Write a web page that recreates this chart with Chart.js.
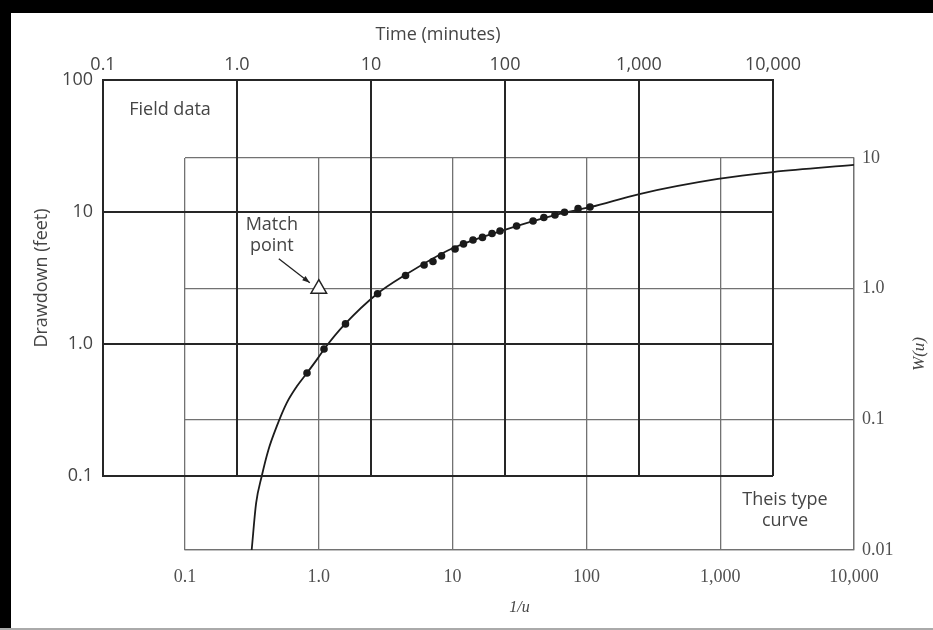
<!DOCTYPE html>
<html><head><meta charset="utf-8">
<script src="https://cdn.jsdelivr.net/npm/chart.js@4.4.1/dist/chart.umd.min.js"></script>
<style>
html,body{margin:0;padding:0;background:#fff;}
#wrap{position:relative;width:933px;height:630px;overflow:hidden;background:#fff;}
canvas{position:absolute;left:0;top:0;}
.bar{position:absolute;background:#000;}
</style></head><body>
<div id="wrap">
<canvas id="typeChart" width="933" height="630"></canvas>
<canvas id="fieldChart" width="933" height="630"></canvas>
<div class="bar" style="left:0;top:0;width:933px;height:13px"></div>
<div class="bar" style="left:0;top:0;width:11px;height:630px"></div>
<div style="position:absolute;left:0;top:628px;width:933px;height:2px;background:#aaa"></div>
</div>
<script>
// ---- tick values and labels ----
const timeTicks = [0.1, 1, 10, 100, 1000, 10000];
const timeTickLabels = ['0.1', '1.0', '10', '100', '1,000', '10,000'];
const drawdownTicks = [0.1, 1, 10, 100];
const drawdownTickLabels = ['0.1', '1.0', '10', '100'];
const invUTicks = [0.1, 1, 10, 100, 1000, 10000];
const invUTickLabels = ['0.1', '1.0', '10', '100', '1,000', '10,000'];
const wuTicks = [0.01, 0.1, 1, 10];
const wuTickLabels = ['0.01', '0.1', '1.0', '10'];

// ---- field data: time (minutes) vs drawdown (feet) ----
const fieldTime = [3.33, 4.46, 6.45, 11.2, 18.1, 24.9, 29.0, 33.6, 42.4, 49.0, 57.7, 67.9, 80.0, 91.8, 122, 162, 195, 236, 278, 351, 431];
const fieldDrawdown = [0.603, 0.917, 1.42, 2.40, 3.30, 3.97, 4.22, 4.65, 5.25, 5.73, 6.14, 6.42, 6.88, 7.18, 7.84, 8.55, 9.09, 9.50, 9.95, 10.6, 10.9];

// ---- Theis type curve: 1/u vs W(u) ----
const curveInvU = [0.315, 0.340, 0.374, 0.420, 0.484, 0.575, 0.684, 0.813, 0.964, 1.11, 1.56, 2.72, 4.41, 9.9, 24.2, 58.2, 108, 249, 964, 2480, 10000];
const curveW = [0.0100, 0.0228, 0.0365, 0.0583, 0.0879, 0.133, 0.178, 0.225, 0.285, 0.350, 0.532, 0.910, 1.27, 2.03, 2.81, 3.66, 4.22, 5.30, 6.91, 7.81, 8.85];

// ---- match point ----
const matchInvU = [1];
const matchW = [1];

const SANS = "'Open Sans', 'DejaVu Sans', sans-serif";
const SERIF = "'Liberation Serif', 'DejaVu Serif', serif";
const TEXT = '#454545';

function decadeTicks(list) { return s => { s.ticks = list.map(v => ({ value: v })); }; }

const typeTextPlugin = {
  id: 'typeText',
  afterDraw(chart) {
    const ctx = chart.ctx;
    const xs = chart.scales.x, ys = chart.scales.y;
    const mx = xs.getPixelForValue(matchInvU[0]);
    const my = ys.getPixelForValue(matchW[0]);
    ctx.save();
    ctx.fillStyle = TEXT;
    ctx.font = "18px " + SANS;
    ctx.textAlign = 'center';
    ctx.textBaseline = 'middle';
    ctx.fillText('Match', mx - 47, my - 64);
    ctx.fillText('point', mx - 47, my - 43);
    // arrow
    ctx.strokeStyle = '#222';
    ctx.fillStyle = '#222';
    ctx.lineWidth = 1.3;
    const x1 = mx - 40, y1 = my - 30, x2 = mx - 9, y2 = my - 6;
    ctx.beginPath(); ctx.moveTo(x1, y1); ctx.lineTo(x2, y2); ctx.stroke();
    const ang = Math.atan2(y2 - y1, x2 - x1);
    ctx.beginPath();
    ctx.moveTo(x2, y2);
    ctx.lineTo(x2 - 8 * Math.cos(ang - 0.35), y2 - 8 * Math.sin(ang - 0.35));
    ctx.lineTo(x2 - 8 * Math.cos(ang + 0.35), y2 - 8 * Math.sin(ang + 0.35));
    ctx.closePath(); ctx.fill();
    // Theis type curve label
    ctx.fillStyle = TEXT;
    ctx.font = "18px " + SANS;
    ctx.fillText('Theis type', 785, 500);
    ctx.fillText('curve', 785, 521);
    // W(u) right title, reading bottom to top
    ctx.translate(920, (chart.chartArea.top + chart.chartArea.bottom) / 2);
    ctx.rotate(-Math.PI / 2);
    ctx.font = "italic 17px " + SERIF;
    ctx.fillText('W(u)', 0, 0);
    ctx.restore();
  }
};

const fieldTextPlugin = {
  id: 'fieldText',
  afterDraw(chart) {
    const ctx = chart.ctx;
    ctx.save();
    ctx.fillStyle = TEXT;
    ctx.font = "18px " + SANS;
    ctx.textAlign = 'center';
    ctx.textBaseline = 'middle';
    ctx.fillText('Field data', 170, 110);
    ctx.restore();
  }
};

// ---- type curve chart (underneath) ----
new Chart(document.getElementById('typeChart'), {
  type: 'scatter',
  data: {
    datasets: [
      {
        data: curveInvU.map((v, i) => ({ x: v, y: curveW[i] })),
        showLine: true, borderColor: '#1c1c1c', borderWidth: 1.8,
        pointRadius: 0, cubicInterpolationMode: 'monotone', fill: false
      },
      {
        data: matchInvU.map((v, i) => ({ x: v, y: matchW[i] })),
        pointStyle: 'triangle', pointRadius: 9,
        pointBackgroundColor: '#ffffff', pointBorderColor: '#222', pointBorderWidth: 1.5
      }
    ]
  },
  options: {
    responsive: false, animation: false, events: [],
    layout: { padding: { left: 185, top: 158, right: 0, bottom: 0 } },
    plugins: { legend: { display: false }, tooltip: { enabled: false } },
    scales: {
      x: {
        type: 'logarithmic', position: 'bottom', min: 0.1, max: 10000,
        afterBuildTicks: decadeTicks(invUTicks),
        afterFit: s => { s.height = 80; },
        ticks: { callback: (v, i) => invUTickLabels[i], color: '#505050', font: { family: SERIF, size: 18 }, padding: 16, maxRotation: 0, autoSkip: false },
        grid: { color: '#727272', lineWidth: 1.3, drawTicks: false },
        border: { display: true, color: '#727272', width: 1.3 },
        title: { display: true, text: '1/u', color: TEXT, font: { family: SERIF, size: 16, style: 'italic' }, padding: { top: 0, bottom: 13 } }
      },
      y: {
        type: 'logarithmic', position: 'right', min: 0.01, max: 10,
        afterBuildTicks: decadeTicks(wuTicks),
        afterFit: s => { s.width = 79; },
        ticks: { callback: (v, i) => wuTickLabels[i], color: '#505050', font: { family: SERIF, size: 18 }, padding: 8, autoSkip: false },
        grid: { color: '#727272', lineWidth: 1.3, drawTicks: false },
        border: { display: true, color: '#727272', width: 1.3 }
      }
    }
  },
  plugins: [typeTextPlugin]
});

// ---- field data chart (on top) ----
new Chart(document.getElementById('fieldChart'), {
  type: 'scatter',
  data: {
    datasets: [{
      data: fieldTime.map((t, i) => ({ x: t, y: fieldDrawdown[i] })),
      pointRadius: 3.8, pointBackgroundColor: '#1a1a1a', pointBorderColor: '#1a1a1a', pointBorderWidth: 0
    }]
  },
  options: {
    responsive: false, animation: false, events: [],
    layout: { padding: { left: 0, top: 0, right: 160, bottom: 154 } },
    plugins: { legend: { display: false }, tooltip: { enabled: false } },
    scales: {
      x: {
        type: 'logarithmic', position: 'top', min: 0.1, max: 10000,
        afterBuildTicks: decadeTicks(timeTicks),
        afterFit: s => { s.height = 80; },
        ticks: { callback: (v, i) => timeTickLabels[i], color: TEXT, font: { family: SANS, size: 18 }, padding: 4, maxRotation: 0, autoSkip: false },
        grid: { color: '#262626', lineWidth: 2, drawTicks: false },
        border: { display: true, color: '#262626', width: 2 },
        title: { display: true, text: 'Time (minutes)', color: TEXT, font: { family: SANS, size: 18 }, padding: { top: 24, bottom: 0 } }
      },
      y: {
        type: 'logarithmic', position: 'left', min: 0.1, max: 100,
        afterBuildTicks: decadeTicks(drawdownTicks),
        afterFit: s => { s.width = 103; },
        ticks: { callback: (v, i) => drawdownTickLabels[i], color: TEXT, font: { family: SANS, size: 18 }, padding: 10, autoSkip: false },
        grid: { color: '#262626', lineWidth: 2, drawTicks: false },
        border: { display: true, color: '#262626', width: 2 },
        title: { display: true, text: 'Drawdown (feet)', color: TEXT, font: { family: SANS, size: 18 }, padding: { top: 31, bottom: 0 } }
      }
    }
  },
  plugins: [fieldTextPlugin]
});
</script>
</body></html>
